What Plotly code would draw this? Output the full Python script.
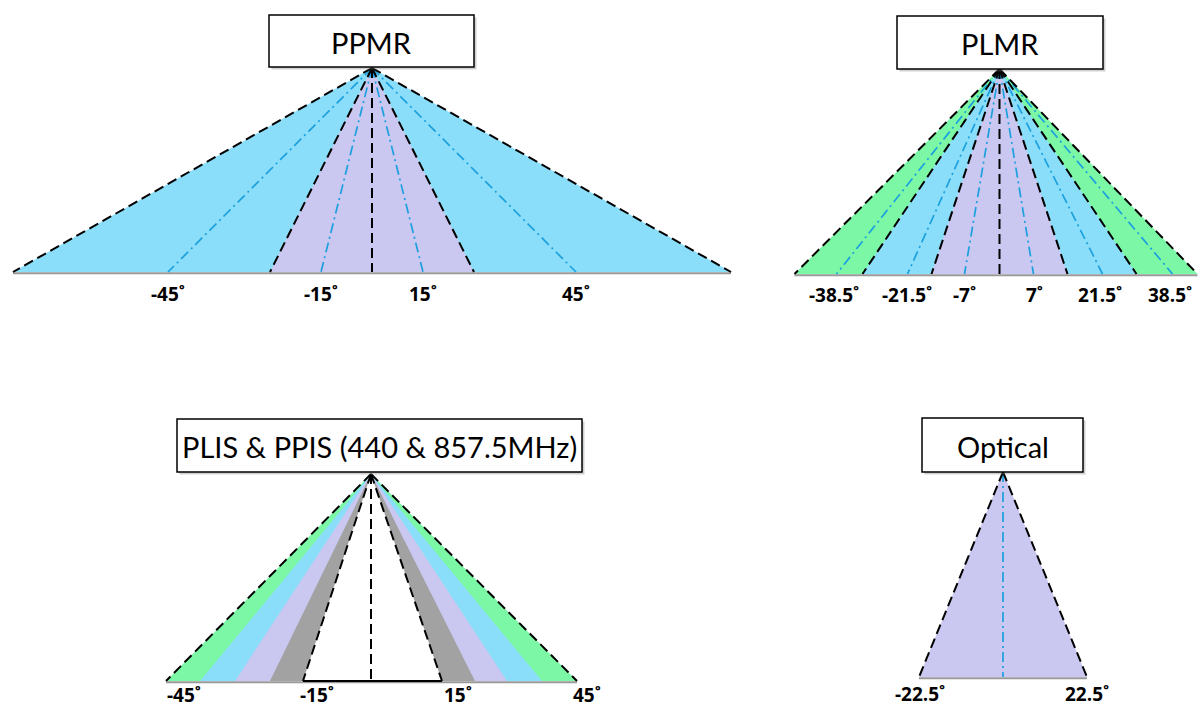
import plotly.graph_objects as go

# ---------------- data ----------------
# spreads at the base of each fan, measured from the apex line (px at base)
ppmr_edges = [-359, -102, 0, 102, 359]
ppmr_centres = [-204, -51, 51, 204]
ppmr_regions = [("blue", -359, 359), ("purple", -102, 102)]
ppmr_labels = ["-45˚", "-15˚", "15˚", "45˚"]
ppmr_label_pos = [-204, -51, 51, 204]

plmr_edges = [-205, -137, -68, 0, 68, 137, 198]
plmr_centres = [-163, -92, -35, 34, 103, 173]
plmr_regions = [("green", -205, 198), ("blue", -137, 137), ("purple", -68, 68)]
plmr_labels = ["-38.5˚", "-21.5˚", "-7˚", "7˚", "21.5˚", "38.5˚"]
plmr_label_pos = [-166, -93, -35, 35, 100, 170]

plis_edges = [-205, -68, 0, 71, 206]
plis_centres = []
plis_regions = [("green", -205, 206), ("blue", -171, 171), ("purple", -136, 136),
                ("gray", -101, 104), ("white", -68, 71)]
plis_labels = ["-45˚", "-15˚", "15˚", "45˚"]
plis_label_pos = [-187, -54, 87, 216]

opt_edges = [-84, 84]
opt_centres = [0]
opt_regions = [("purple", -84, 84)]
opt_labels = ["-22.5˚", "22.5˚"]
opt_label_pos = [-83, 84]

titles = ["PPMR", "PLMR", "PLIS & PPIS (440 & 857.5MHz)", "Optical"]

# ---------------- layout / styles ----------------
palette = {
    "blue": "rgb(138,222,250)",
    "purple": "rgb(202,199,240)",
    "green": "rgb(124,247,166)",
    "gray": "rgb(162,162,162)",
    "white": "rgb(255,255,255)",
}
panels = [
    dict(title=titles[0], apex=(372, 68), base=272, box=(269, 15, 474, 67), label_y=294,
         edges=ppmr_edges, centres=ppmr_centres, regions=ppmr_regions,
         labels=ppmr_labels, label_pos=ppmr_label_pos, baseline=None),
    dict(title=titles[1], apex=(999.5, 69), base=274, box=(897, 16, 1103, 69), label_y=295,
         edges=plmr_edges, centres=plmr_centres, regions=plmr_regions,
         labels=plmr_labels, label_pos=plmr_label_pos, baseline=None),
    dict(title=titles[2], apex=(371, 474), base=681, box=(177, 419, 582, 472), label_y=695,
         edges=plis_edges, centres=plis_centres, regions=plis_regions,
         labels=plis_labels, label_pos=plis_label_pos, baseline=(-68, 71)),
    dict(title=titles[3], apex=(1003, 472), base=677, box=(922, 418, 1083, 472), label_y=694,
         edges=opt_edges, centres=opt_centres, regions=opt_regions,
         labels=opt_labels, label_pos=opt_label_pos, baseline=None),
]

W, H = 1198, 709
fig = go.Figure()
shapes = []
annotations = []

for p in panels:
    ax, ay = p["apex"]
    by = p["base"]
    # filled wedges
    for colname, l, r in p["regions"]:
        fig.add_trace(go.Scatter(
            x=[ax, ax + l, ax + r, ax], y=[ay, by, by, ay],
            mode="lines", fill="toself", fillcolor=palette[colname],
            line=dict(width=0, color=palette[colname]), hoverinfo="skip", showlegend=False))
    # shadow along the base
    lo = min(r[1] for r in p["regions"])
    hi = max(r[2] for r in p["regions"])
    fig.add_trace(go.Scatter(x=[ax + lo, ax + hi], y=[by + 1.3, by + 1.3], mode="lines",
                             line=dict(color="rgba(70,70,70,0.55)", width=2),
                             hoverinfo="skip", showlegend=False))
    if p["baseline"]:
        bl, br = p["baseline"]
        fig.add_trace(go.Scatter(x=[ax + bl, ax + br], y=[by, by], mode="lines",
                                 line=dict(color="black", width=2),
                                 hoverinfo="skip", showlegend=False))
    # beam-centre dash-dot lines
    for c in p["centres"]:
        fig.add_trace(go.Scatter(x=[ax, ax + c], y=[ay, by], mode="lines",
                                 line=dict(color="rgb(28,160,222)", width=1.7,
                                           dash="10px,4px,2px,4px"),
                                 hoverinfo="skip", showlegend=False))
    # beam-edge dashed lines
    for e in p["edges"]:
        fig.add_trace(go.Scatter(x=[ax, ax + e], y=[ay, by], mode="lines",
                                 line=dict(color="black", width=2, dash="10px,5px"),
                                 hoverinfo="skip", showlegend=False))
    # labels
    for txt, lp in zip(p["labels"], p["label_pos"]):
        annotations.append(dict(x=ax + lp, y=p["label_y"], text=txt, showarrow=False,
                                xanchor="center", yanchor="middle",
                                font=dict(family="Open Sans", size=19, color="black",
                                          weight="bold")))
    # title box with shadow
    x0, y0, x1, y1 = p["box"]
    shapes.append(dict(type="rect", x0=x0 + 2.5, y0=y0 + 2.5, x1=x1 + 2.5, y1=y1 + 2.5,
                       line=dict(width=0), fillcolor="rgba(120,120,120,0.35)", layer="above"))
    shapes.append(dict(type="rect", x0=x0, y0=y0, x1=x1, y1=y1,
                       line=dict(color="black", width=1.5), fillcolor="white", layer="above"))
    annotations.append(dict(x=(x0 + x1) / 2, y=(y0 + y1) / 2 + 1, text=p["title"],
                            showarrow=False, xanchor="center", yanchor="middle",
                            font=dict(family="Lato", size=29, color="black")))

fig.update_layout(
    width=W, height=H, margin=dict(l=0, r=0, t=0, b=0),
    paper_bgcolor="white", plot_bgcolor="white",
    xaxis=dict(range=[0, W], visible=False, fixedrange=True),
    yaxis=dict(range=[H, 0], visible=False, fixedrange=True),
    shapes=shapes, annotations=annotations, showlegend=False,
)

fig.write_html("out.html", config={"displayModeBar": False},
               post_script="document.body.style.margin='0';document.body.style.overflow='hidden';")
